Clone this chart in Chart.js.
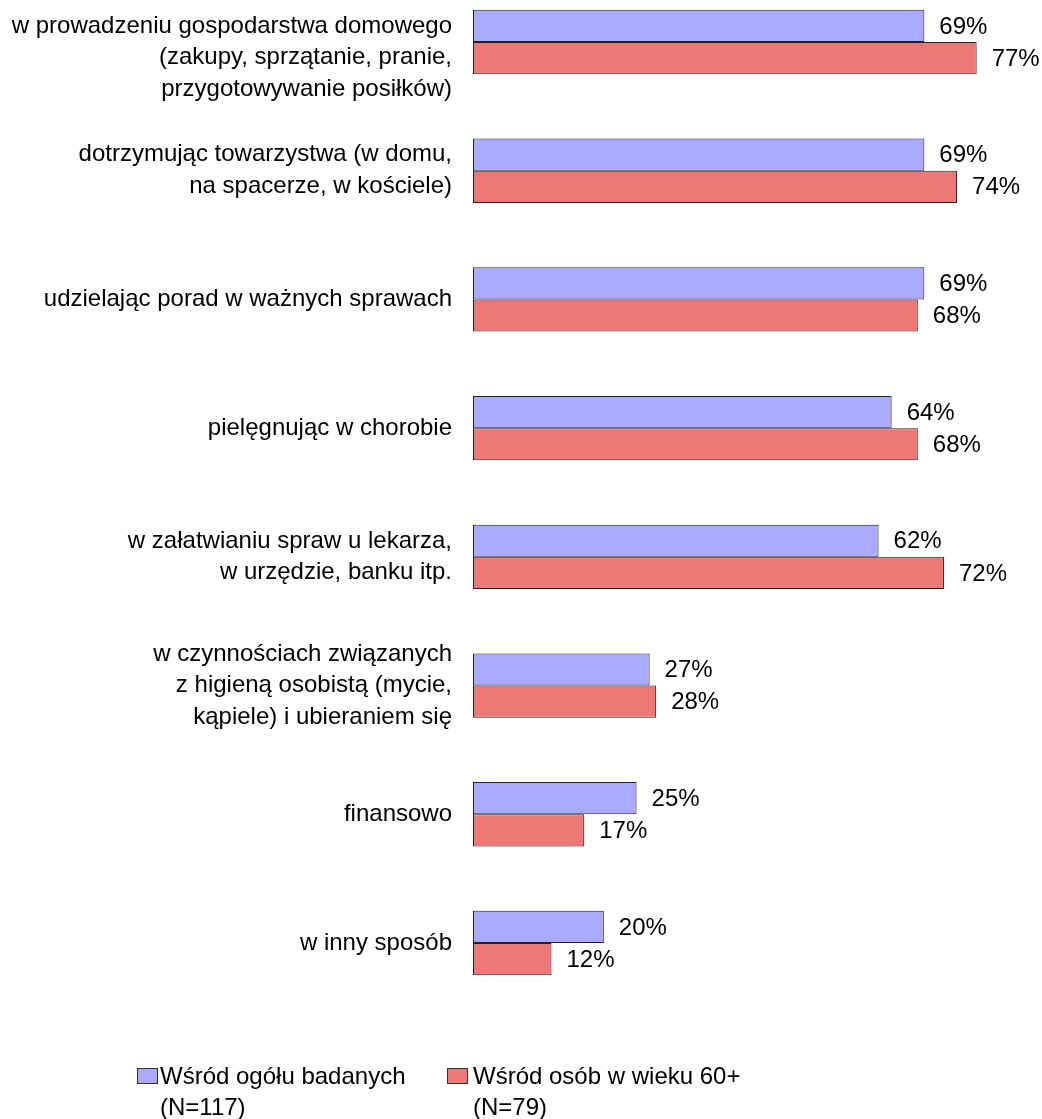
<!DOCTYPE html>
<html>
<head>
<meta charset="utf-8">
<script src="https://cdn.jsdelivr.net/npm/chart.js@4"></script>
<style>
  body { margin: 0; background: #fff; }
  #wrap { position: relative; width: 1042px; height: 1119px; }
  .leg { position: absolute; font: 24px "Liberation Sans", Arial, sans-serif; line-height: 31px; color: #000; }
  .sw { position: absolute; width: 19px; height: 14px; border: 1px solid #333; }
</style>
</head>
<body>
<div id="wrap">
  <canvas id="myChart" width="1042" height="1119"></canvas>
  <div class="sw" style="left:137px; top:1068px; background:#aaaaff"></div>
  <div class="leg" style="left:160px; top:1060px">Wśród ogółu badanych<br>(N=117)</div>
  <div class="sw" style="left:447px; top:1068px; background:#ee7777"></div>
  <div class="leg" style="left:473px; top:1060px">Wśród osób w wieku 60+<br>(N=79)</div>
</div>
<script>
// categories (first one gets a blank line so it sits lower, like the original)
var categories = [
  ['', 'w prowadzeniu gospodarstwa domowego', '(zakupy, sprzątanie, pranie,', 'przygotowywanie posiłków)'],
  ['dotrzymując towarzystwa (w domu,', 'na spacerze, w kościele)'],
  'udzielając porad w ważnych sprawach',
  'pielęgnując w chorobie',
  ['w załatwianiu spraw u lekarza,', 'w urzędzie, banku itp.'],
  ['w czynnościach związanych', 'z higieną osobistą (mycie,', 'kąpiele) i ubieraniem się'],
  'finansowo',
  'w inny sposób'
];
var allRespondents = [69, 69, 69, 64, 62, 27, 25, 20];
var over60 = [77, 74, 68, 68, 72, 28, 17, 12];

var font = '"Liberation Sans", Arial, sans-serif';

var valueLabels = {
  id: 'valueLabels',
  afterDatasetsDraw: function (chart) {
    var ctx = chart.ctx;
    ctx.save();
    ctx.font = '24px ' + font;
    ctx.fillStyle = '#000';
    ctx.textAlign = 'left';
    ctx.textBaseline = 'middle';
    chart.data.datasets.forEach(function (ds, i) {
      chart.getDatasetMeta(i).data.forEach(function (bar, j) {
        ctx.fillText(ds.data[j] + '%', bar.x + 15, bar.y + 1);
      });
    });
    ctx.restore();
  }
};

var ctx = document.getElementById('myChart').getContext('2d');
var myChart = new Chart(ctx, {
  type: 'bar',
  data: {
    labels: categories,
    datasets: [{
      label: 'Wśród ogółu badanych (N=117)',
      data: allRespondents,
      backgroundColor: '#aaaaff',
      borderColor: '#222',
      borderWidth: 1,
      borderSkipped: false,
      clip: false
    }, {
      label: 'Wśród osób w wieku 60+ (N=79)',
      data: over60,
      backgroundColor: '#ee7777',
      borderColor: '#222',
      borderWidth: 1,
      borderSkipped: false,
      clip: false
    }]
  },
  options: {
    indexAxis: 'y',
    responsive: false,
    animation: false,
    categoryPercentage: 0.5,
    barPercentage: 1,
    layout: { padding: { top: 42, bottom: 176, left: 0, right: 13 } },
    plugins: { legend: { display: false }, tooltip: { enabled: false } },
    scales: {
      x: { display: false, min: 0, max: 85 },
      y: {
        offset: false,
        grid: { display: false, drawTicks: false },
        border: { display: false },
        afterFit: function (scale) { scale.width = 473; },
        ticks: {
          autoSkip: false,
          padding: 21,
          color: '#000',
          font: { family: font, size: 24, lineHeight: 1.32 }
        }
      }
    }
  },
  plugins: [valueLabels]
});
</script>
</body>
</html>
